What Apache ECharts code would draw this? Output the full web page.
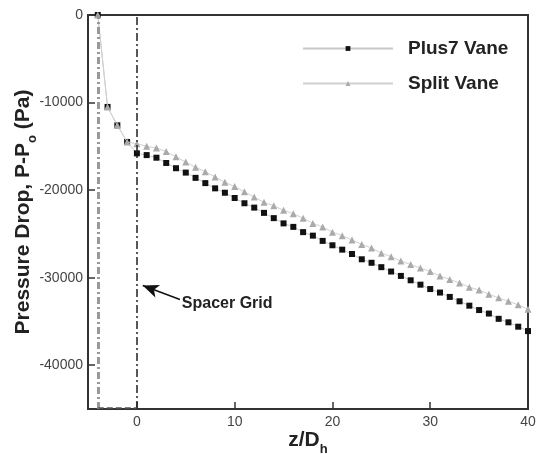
<!DOCTYPE html>
<html>
<head>
<meta charset="utf-8">
<script src="https://cdn.jsdelivr.net/npm/echarts@6/dist/echarts.min.js"></script>
<style>html,body{margin:0;padding:0;background:#fff}#c{width:541px;height:454px}</style>
</head>
<body>
<div id="c"></div>
<script>
var zValues = [-4,-3,-2,-1,0,1,2,3,4,5,6,7,8,9,10,11,12,13,14,15,16,17,18,19,20,21,22,23,24,25,26,27,28,29,30,31,32,33,34,35,36,37,38,39,40];
var plus7Vane = [0,-10500,-12600,-14500,-15800,-16000,-16300,-16900,-17500,-18000,-18600,-19200,-19800,-20300,-20900,-21500,-22000,-22600,-23200,-23800,-24200,-24800,-25200,-25800,-26300,-26800,-27300,-27900,-28300,-28800,-29300,-29800,-30300,-30800,-31300,-31700,-32200,-32700,-33200,-33700,-34100,-34700,-35100,-35600,-36100];
var splitVane = [0,-10500,-12600,-14500,-14700,-15000,-15200,-15600,-16200,-16800,-17400,-17900,-18500,-19100,-19600,-20200,-20800,-21400,-21800,-22300,-22700,-23200,-23800,-24200,-24800,-25200,-25700,-26200,-26600,-27200,-27600,-28100,-28500,-28900,-29300,-29800,-30200,-30600,-31100,-31400,-31900,-32300,-32700,-33100,-33600];
var xTicks = [0,10,20,30,40];
var yTicks = [0,-10000,-20000,-30000,-40000];
var gridLines = [-4, 0];
var arrowFrom = [4.4, -32500];
var arrowTo = [0.6, -30900];

function pairs(xs, ys){ return xs.map(function(x,i){ return [x, ys[i]]; }); }

var chart = echarts.init(document.getElementById('c'), null, {renderer:'canvas'});
var fontFam = 'Liberation Sans, Arial, sans-serif';
chart.setOption({
  animation: false,
  backgroundColor: '#fff',
  grid: {left: 88, right: 13, top: 15, bottom: 45, containLabel: false, outerBoundsMode: 'none', show: true, borderColor: '#333', borderWidth: 2, backgroundColor: 'transparent'},
  legend: {
    orient: 'vertical', left: 297, top: 34, itemWidth: 90, itemHeight: 6, itemGap: 16,
    textStyle: {fontFamily: fontFam, fontSize: 19, fontWeight: 'bold', color: '#222', padding: [0,0,0,10]},
    data: ['Plus7 Vane', 'Split Vane']
  },
  xAxis: {
    type: 'value', min: -5, max: 40,
    axisLine: {show: true, onZero: false, lineStyle: {color: '#333', width: 2}},
    axisTick: {show: true, inside: true, length: 7, customValues: xTicks, lineStyle: {color: '#333', width: 1.5}},
    axisLabel: {customValues: xTicks, fontFamily: fontFam, fontSize: 14, color: '#444', margin: 6},
    splitLine: {show: false},
    name: '{a|z/D}{s|h}', nameLocation: 'middle', nameGap: 16, nameMoveOverlap: false,
    nameTextStyle: {rich: {
      a: {fontFamily: fontFam, fontSize: 21, fontWeight: 'bold', color: '#222', lineHeight: 26, verticalAlign: 'bottom'},
      s: {fontFamily: fontFam, fontSize: 13, fontWeight: 'bold', color: '#222', lineHeight: 26, verticalAlign: 'bottom', padding: [0,0,-5,0]}
    }}
  },
  yAxis: {
    type: 'value', min: -45000, max: 0,
    axisLine: {show: true, onZero: false, lineStyle: {color: '#333', width: 2}},
    axisTick: {show: true, inside: true, length: 7, customValues: yTicks, lineStyle: {color: '#333', width: 1.5}},
    axisLabel: {customValues: yTicks, fontFamily: fontFam, fontSize: 14, color: '#444', margin: 5, formatter: function(v){ return String(v); }},
    splitLine: {show: false},
    name: '{a|Pressure Drop, P-P}{s|o}{a| (Pa)}', nameLocation: 'middle', nameGap: 54, nameRotate: 90, nameMoveOverlap: false,
    nameTextStyle: {rich: {
      a: {fontFamily: fontFam, fontSize: 21, fontWeight: 'bold', color: '#222', lineHeight: 26, verticalAlign: 'bottom'},
      s: {fontFamily: fontFam, fontSize: 13, fontWeight: 'bold', color: '#222', lineHeight: 26, verticalAlign: 'bottom', padding: [0,0,-5,0]}
    }}
  },
  series: [
    {
      name: 'Plus7 Vane', type: 'line', data: pairs(zValues, plus7Vane),
      symbol: 'rect', symbolSize: 6,
      itemStyle: {color: '#111'},
      lineStyle: {color: '#c8c8c8', width: 1},
      z: 3,
      markLine: {
        silent: true, symbol: ['none','none'], label: {show: false},
        data: [
          [{coord: [gridLines[0], -45000], lineStyle: {color: '#999', width: 3, type: [7,3,2,3]}}, {coord: [gridLines[0], 0]}],
          [{coord: [gridLines[1], -45000], lineStyle: {color: '#222', width: 1.5, type: [8,3,2,3]}}, {coord: [gridLines[1], 0]}],
          [{coord: [gridLines[0], -44850], lineStyle: {color: '#555', width: 1.5, type: [6,3]}}, {coord: [gridLines[1], -44850]}]
        ]
      }
    },
    {
      name: 'Split Vane', type: 'line', data: pairs(zValues, splitVane),
      symbol: 'triangle', symbolSize: 7,
      itemStyle: {color: '#aaa'},
      lineStyle: {color: '#d0d0d0', width: 1},
      z: 4,
      markLine: {
        silent: true, symbol: ['none','arrow'], symbolSize: [10, 16], label: {show: false},
        lineStyle: {color: '#111', width: 1.5, type: 'solid'},
        data: [[{coord: arrowFrom}, {coord: arrowTo}]]
      },
      markPoint: {
        silent: true, symbol: 'circle', symbolSize: 0,
        data: [{coord: [arrowFrom[0] + 0.2, arrowFrom[1] - 450], label: {show: true, position: 'right', distance: 0, formatter: 'Spacer Grid', fontFamily: fontFam, fontSize: 16, fontWeight: 'bold', color: '#222'}}]
      }
    }
  ]
});
</script>
</body>
</html>
